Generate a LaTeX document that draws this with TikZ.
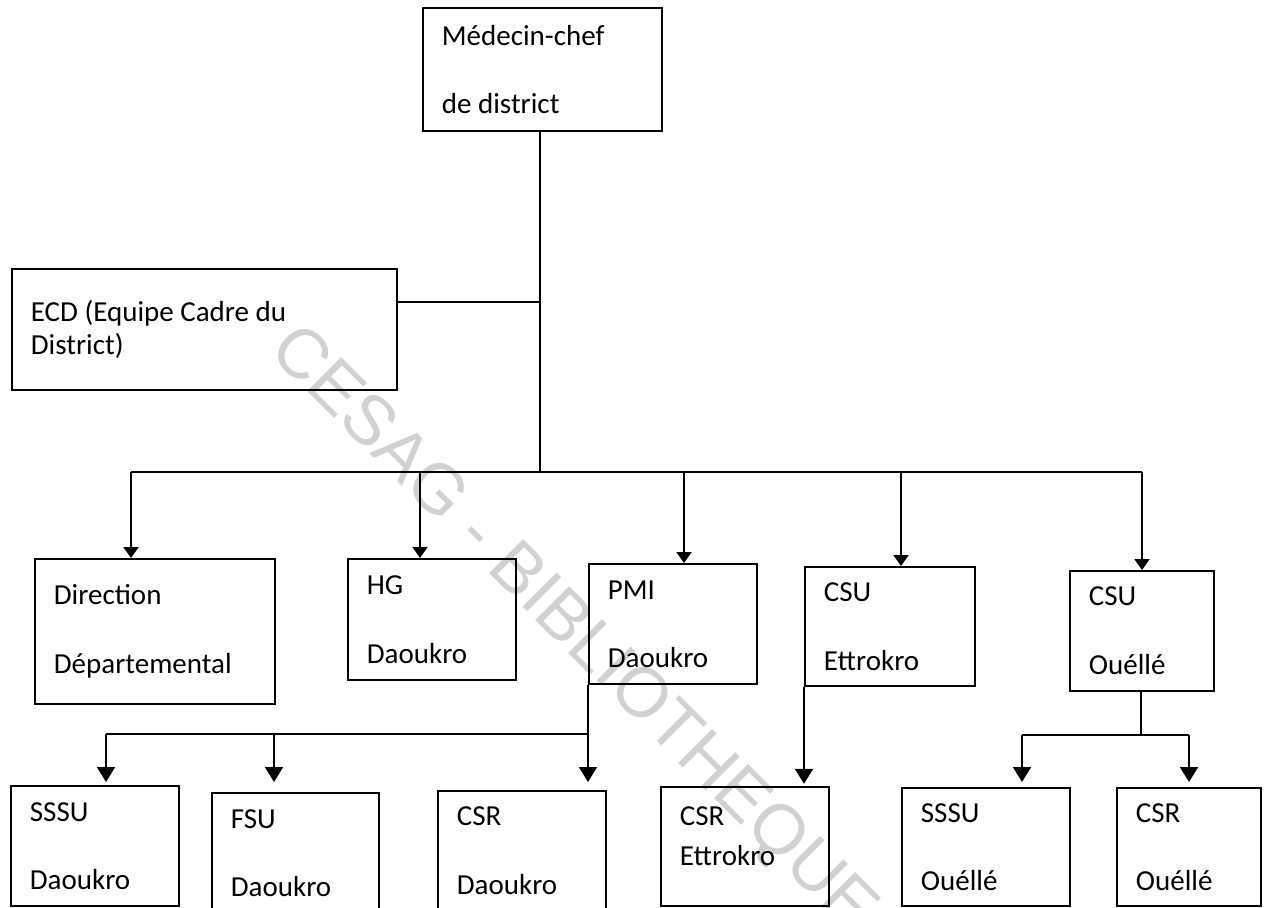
\documentclass[tikz,border=0pt]{standalone}
\usepackage{fontspec}
\setmainfont{Carlito}
\newfontfamily\wmfont{Liberation Sans}
\usepackage{tikz}
\usetikzlibrary{arrows.meta}
\tikzset{
    orgbox/.style={draw=black, line width=0.9pt, anchor=north west, align=flush left,
        inner xsep=9.5pt, inner ysep=0pt, font=\fontsize{14.5}{17.5}\selectfont},
    link/.style={line width=0.9pt},
    arr/.style={line width=1pt, -{Triangle[length=5.5pt, width=7.5pt]}},
    arrb/.style={line width=1pt, -{Triangle[length=7.5pt, width=9pt]}}}

\begin{document}
\begin{tikzpicture}[x=0.5pt, y=-0.5pt]

    \useasboundingbox (0,0) rectangle (1267,908);

    % filigrane
    \node[rotate=-45, text=black!18, font=\wmfont\fontsize{35}{37}\selectfont] (wm) at (572,631) {CESAG - BIBLIOTHEQUE};

    % direction du district
    \node[orgbox, text width=100.5pt, minimum height=61.5pt] (med) at (422,7) {Médecin-chef\\[16.5pt]de district};
    \node[orgbox, text width=173.5pt, minimum height=60.5pt] (ecd) at (11,268) {ECD (Equipe Cadre du\\[-1pt]District)};

    % structures
    \node[orgbox, text width=101pt, minimum height=72.5pt] (dir) at (34,558) {Direction\\[17pt]Départemental};
    \node[orgbox, text width=65pt, minimum height=60.5pt] (hg) at (347,558) {HG\\[17pt]Daoukro};
    \node[orgbox, text width=65pt, minimum height=60pt] (pmi) at (588,563) {PMI\\[16.5pt]Daoukro};
    \node[orgbox, text width=66pt, minimum height=59.5pt] (csue) at (804,566) {CSU\\[17pt]Ettrokro};
    \node[orgbox, text width=53pt, minimum height=60pt] (csuo) at (1069,570) {CSU\\[17pt]Ouéllé};

    \node[orgbox, text width=65pt, minimum height=60pt] (sssud) at (10,785) {SSSU\\[16.5pt]Daoukro};
    \node[orgbox, text width=64.5pt, minimum height=60pt] (fsu) at (211,792) {FSU\\[16.5pt]Daoukro};
    \node[orgbox, text width=65pt, minimum height=60pt] (csrd) at (437,790) {CSR\\[17pt]Daoukro};
    \node[orgbox, text width=65pt, minimum height=59.5pt] (csret) at (660,786) {CSR\\[2.5pt]Ettrokro\\[-7.5pt]\mbox{}};
    \node[orgbox, text width=65pt, minimum height=59pt] (sssuo) at (901,787) {SSSU\\[16.5pt]Ouéllé};
    \node[orgbox, text width=53pt, minimum height=59pt] (csro) at (1116,787) {CSR\\[16.5pt]Ouéllé};

    % liaisons
    \coordinate (jmed) at (540,472);
    \coordinate (jecd) at (540,302);
    \draw[link] (jmed |- med.south) -- (jmed);
    \draw[link] (ecd.east |- jecd) -- (jecd);

    \coordinate (bdir) at (131,472);
    \coordinate (bhg) at (420,472);
    \coordinate (bpmi) at (684,472);
    \coordinate (bcsue) at (901,472);
    \coordinate (bcsuo) at (1142,472);
    \draw[link] (bdir) -- (bcsuo);
    \draw[arr] (bdir) -- (bdir |- dir.north);
    \draw[arr] (bhg) -- (bhg |- hg.north);
    \draw[arr] (bpmi) -- (bpmi |- pmi.north);
    \draw[arr] (bcsue) -- (bcsue |- csue.north);
    \draw[arr] (bcsuo) -- (bcsuo |- csuo.north);

    \coordinate (jpmi) at (588,734);
    \coordinate (p1) at (106,734);
    \coordinate (p2) at (274,734);
    \draw[link] (pmi.south west) -- (jpmi) -- (p1);
    \draw[arrb] (p1) -- ++(0,48);
    \draw[arrb] (p2) -- ++(0,48);
    \draw[arrb] (jpmi) -- ++(0,48);

    \draw[arrb] (csue.south west) -- ++(0,97);

    \coordinate (jo) at (1141,735);
    \coordinate (o1) at (1022,735);
    \coordinate (o2) at (1189,735);
    \draw[link] (jo |- csuo.south) -- (jo);
    \draw[link] (o1) -- (o2);
    \draw[arrb] (o1) -- ++(0,47);
    \draw[arrb] (o2) -- ++(0,47);

\end{tikzpicture}
\end{document}
